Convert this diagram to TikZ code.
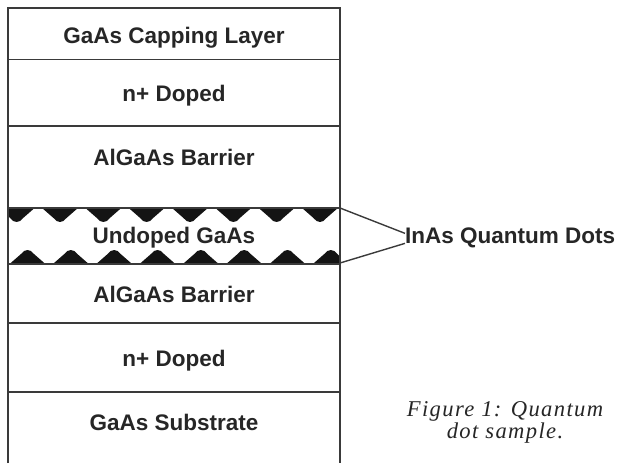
\documentclass[tikz,border=0pt]{standalone}
\usepackage{fontspec}
\setmainfont{Liberation Sans}
\newfontfamily\capfont[LetterSpace=6]{Liberation Serif}
\usetikzlibrary{calc}
\definecolor{ln}{HTML}{3A3A3A}
\definecolor{tx}{HTML}{262626}
\begin{document}
\begin{tikzpicture}[x=1pt,y=-1pt,
  layer/.style={draw=ln, line width=1.8pt},
  lbl/.style={font=\fontsize{22.5}{26}\selectfont\bfseries, text=tx, anchor=base, inner sep=0pt},
  conn/.style={draw=ln, line width=1.4pt},
  dotfill/.style={fill=black!92}]
\useasboundingbox (0,0) rectangle (618,463);
% quantum dot layers
\begin{scope}
\clip (8,0) rectangle (340,463);
\foreach \k in {0,...,7} {
  \pgfmathsetmacro{\ct}{16.67+43.33*\k}
  \pgfmathsetmacro{\cb}{27.5+43.33*\k}
  \fill[dotfill] (\ct-18.5,207.5) -- (\ct-6.5,218) .. controls (\ct-3,223.3) and (\ct+3,223.3) .. (\ct+6.5,218) -- (\ct+18.5,207.5) -- cycle;
  \fill[dotfill] (\cb-18.5,264.5) -- (\cb-6.5,254) .. controls (\cb-3,248.7) and (\cb+3,248.7) .. (\cb+6.5,254) -- (\cb+18.5,264.5) -- cycle;
}
\end{scope}
% layer boundaries
\draw[layer] (8,463) -- (8,8) -- (340,8) -- (340,463);
\foreach \yy in {59.5,126,208,264,323,392} {\draw[layer] (8,\yy) -- (340,\yy);}
% labels
\node[lbl] (cap) at (174,43) {GaAs Capping Layer};
\node[lbl] (nt) at (174,101) {n+ Doped};
\node[lbl] (bt) at (174,165) {AlGaAs Barrier};
\node[lbl] (ud) at (174,243) {Undoped GaAs};
\node[lbl] (bb) at (174,302) {AlGaAs Barrier};
\node[lbl] (nb) at (174,366) {n+ Doped};
\node[lbl] (sub) at (174,430) {GaAs Substrate};
% quantum dots label
\coordinate (qt) at (340,208);
\coordinate (qb) at (340,263);
\node[lbl, anchor=base west] (dots) at (405,243) {InAs Quantum Dots};
\draw[conn] (qt) -- ($(dots.west)+(0,-4)$);
\draw[conn] (qb) -- ($(dots.west)+(0,6)$);
% caption
\node[font=\capfont\itshape\fontsize{22.6}{22}\selectfont, text=tx, align=center, inner sep=0pt, anchor=north] (fig) at (505,401) {Figure 1: Quantum\\dot sample.};
\end{tikzpicture}
\end{document}
